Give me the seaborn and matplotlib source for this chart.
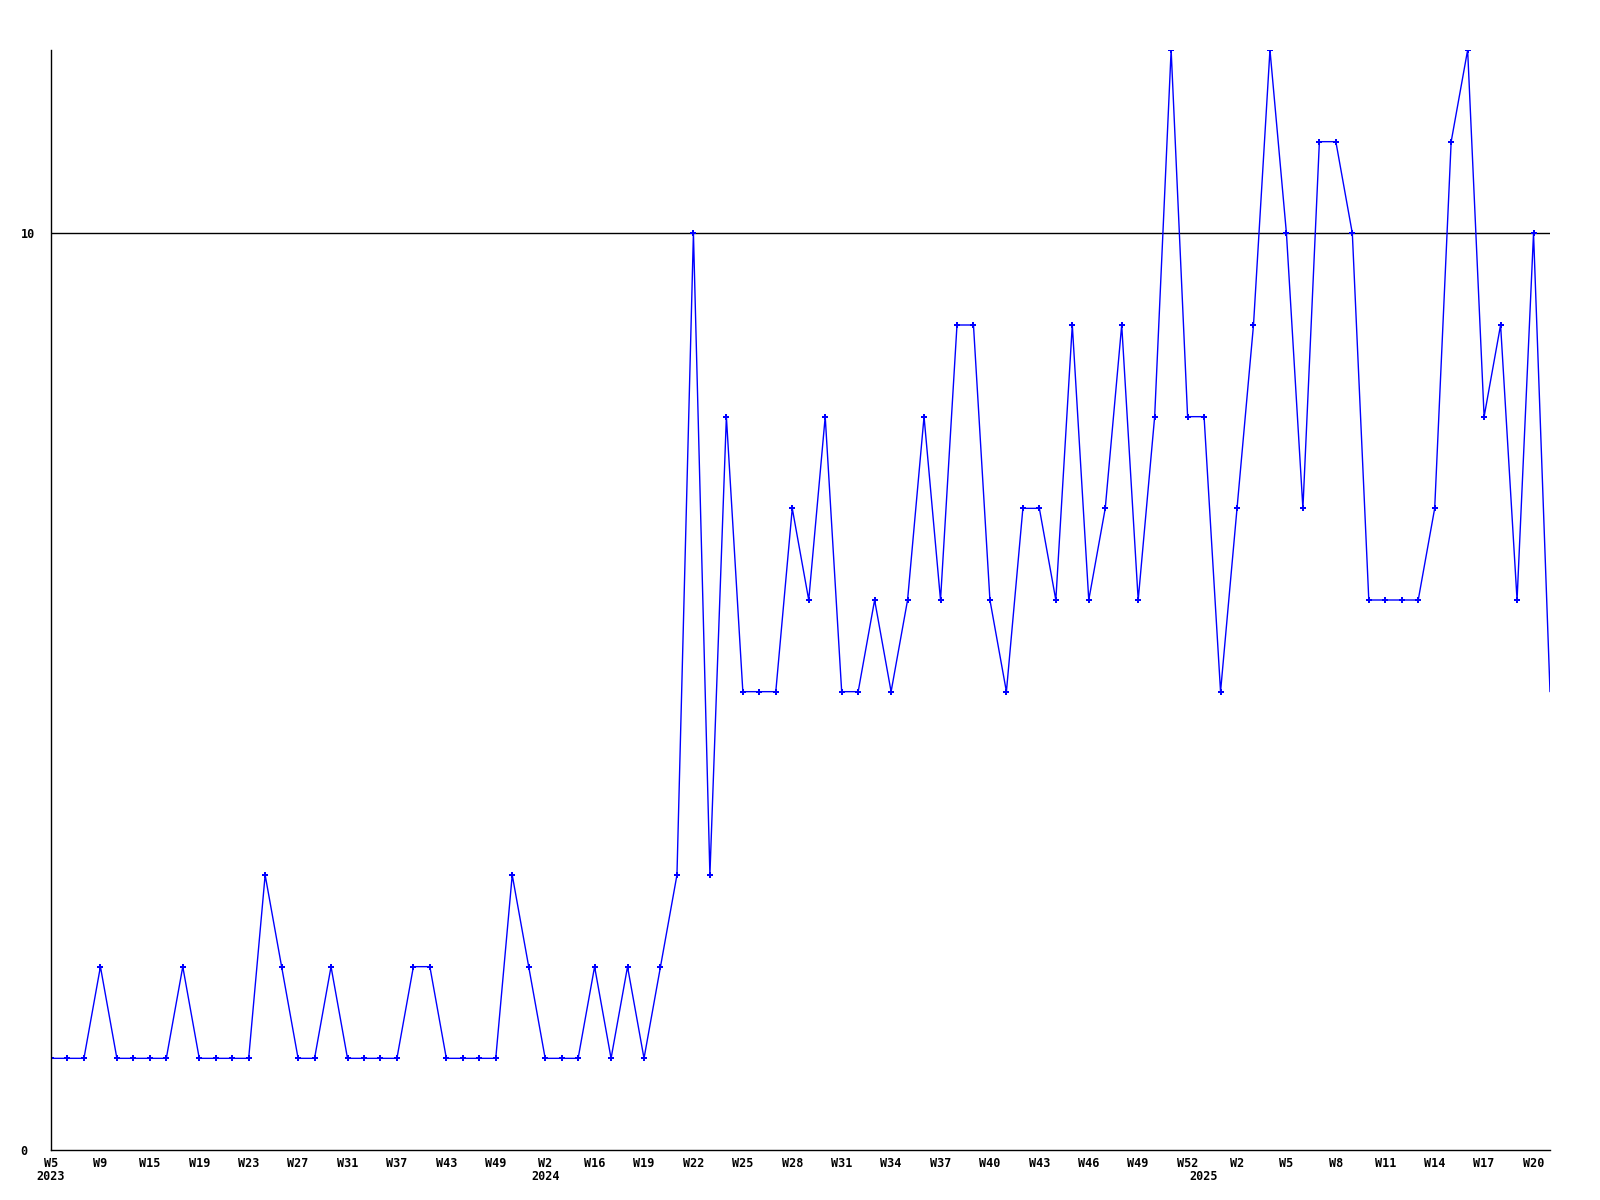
import matplotlib
matplotlib.use("Agg")
import matplotlib.pyplot as plt
import pandas as pd
import seaborn as sns

# weekly counts, one value per week (92 weeks)
counts = [1, 1, 1, 2, 1, 1, 1, 1, 2, 1, 1, 1, 1, 3, 2, 1, 1, 2, 1, 1, 1, 1, 2, 2, 1, 1, 1, 1, 3, 2,
          1, 1, 1, 2, 1, 2, 1, 2, 3, 10, 3, 8, 5, 5, 5, 7, 6, 8, 5, 5, 6, 5, 6, 8, 6, 9, 9, 6, 5, 7,
          7, 6, 9, 6, 7, 9, 6, 8, 12, 8, 8, 5, 7, 9, 12, 10, 7, 11, 11, 10, 6, 6, 6, 6, 7, 11, 12, 8, 9, 6,
          10, 5]

# week labels shown under every third point
tick_weeks = ["W5", "W9", "W15", "W19", "W23", "W27", "W31", "W37", "W43", "W49",
              "W2", "W16", "W19", "W22", "W25", "W28", "W31", "W34", "W37", "W40",
              "W43", "W46", "W49", "W52", "W2", "W5", "W8", "W11", "W14", "W17", "W20"]
year_labels = ["2023", "2024", "2025"]
year_index = [0, 30, 70]

y_ticks = [0, 10]

BLUE = "#0000ff"
FONT = "DejaVu Sans Mono"

sns.set_theme(style="white")
plt.rcParams["font.family"] = [FONT]

df = pd.DataFrame({"week": range(len(counts)), "count": counts})

fig = plt.figure(figsize=(16, 12), dpi=100)
ax = fig.add_axes([51 / 1600, 50 / 1200, 1499 / 1600, 1100 / 1200])

sns.lineplot(data=df, x="week", y="count", ax=ax, color=BLUE, linewidth=1.0,
             marker="P", markersize=4.5, markeredgewidth=0,
             markevery=list(range(len(counts) - 1)))

ax.axhline(10, color="black", linewidth=1.0, zorder=1)

ax.set_xlim(0, len(counts) - 1)
ax.set_ylim(0, 12)
ax.set_xlabel("")
ax.set_ylabel("")

for side in ["top", "right"]:
    ax.spines[side].set_visible(False)
for side in ["left", "bottom"]:
    ax.spines[side].set_color("black")
    ax.spines[side].set_linewidth(1.0)

ax.set_xticks(range(0, len(counts), 3))
ax.set_xticklabels(tick_weeks, fontsize=8.5, fontweight="bold", family=FONT)
ax.set_yticks(y_ticks)
ax.set_yticklabels([str(t) for t in y_ticks], fontsize=8.5, fontweight="bold", family=FONT)
ax.tick_params(axis="both", length=0, colors="black")
ax.tick_params(axis="x", pad=5)
ax.tick_params(axis="y", pad=22)
for lab in ax.get_yticklabels():
    lab.set_horizontalalignment("left")

for yl, xi in zip(year_labels, year_index):
    ax.annotate(yl, xy=(xi, 0), xycoords=("data", "axes fraction"),
                xytext=(0, -26), textcoords="offset pixels",
                ha="center", va="center", fontsize=8.5, fontweight="bold",
                family=FONT, color="black", annotation_clip=False)

ax.grid(False)
fig.savefig("out.png", dpi=100, facecolor="white")
plt.close(fig)
